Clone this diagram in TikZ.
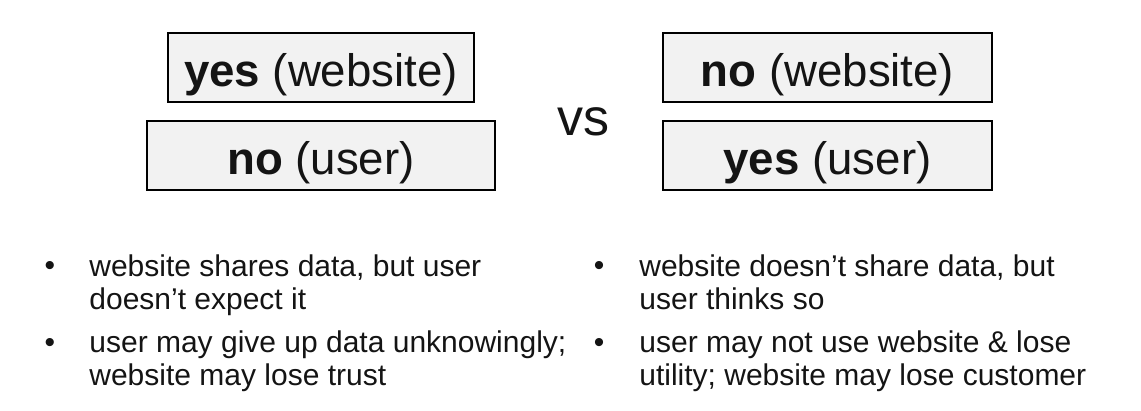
\documentclass[tikz,border=0pt]{standalone}
\usepackage{fontspec}
\setmainfont{Liberation Sans}
\definecolor{boxfill}{HTML}{F2F2F2}
\definecolor{ink}{HTML}{141414}

\def\boxsize{\fontsize{22.8pt}{28pt}\selectfont}
\def\itemsize{\fontsize{15pt}{17pt}\selectfont}

\begin{document}
\begin{tikzpicture}[x=0.5pt, y=-0.5pt, every node/.style={text=ink},
    answer/.style={draw=black, fill=boxfill, line width=1.25pt, inner sep=0pt,
      text height=27pt, text depth=7.5pt, anchor=base, font=\boxsize},
    item/.style={anchor=base west, align=left, inner sep=0pt, font=\itemsize},
    dot/.style={anchor=base, inner sep=0pt, font=\itemsize}]
      \useasboundingbox (0,0) rectangle (1141,411);
      % left pair
      \node[answer, minimum width=153pt] (yesweb) at (321, 87) {\textbf{yes} (website)};
      \node[answer, minimum width=174pt] (nouser) at (321, 175) {\textbf{no} (user)};
      % right pair
      \node[answer, minimum width=164.5pt] (noweb) at (827.5, 87) {\textbf{no} (website)};
      \node[answer, minimum width=164.5pt] (yesuser) at (827.5, 175) {\textbf{yes} (user)};
      \node[anchor=base, inner sep=0pt, font=\fontsize{26pt}{30pt}\selectfont] (vs) at (583.5, 136) {vs};
      % consequences (base = last line)
      \node[dot] (dotla) at (50, 276) {•};
      \node[item] (itemla) at (89, 310) {website shares data, but user\\doesn’t expect it};
      \node[dot] (dotlb) at (50, 352) {•};
      \node[item] (itemlb) at (89, 386) {user may give up data unknowingly;\\website may lose trust};
      \node[dot] (dotra) at (599, 276) {•};
      \node[item] (itemra) at (639, 310) {website doesn’t share data, but\\user thinks so};
      \node[dot] (dotrb) at (599, 352) {•};
      \node[item] (itemrb) at (639, 386) {user may not use website \& lose\\utility; website may lose customer};
    \end{tikzpicture}
\end{document}
